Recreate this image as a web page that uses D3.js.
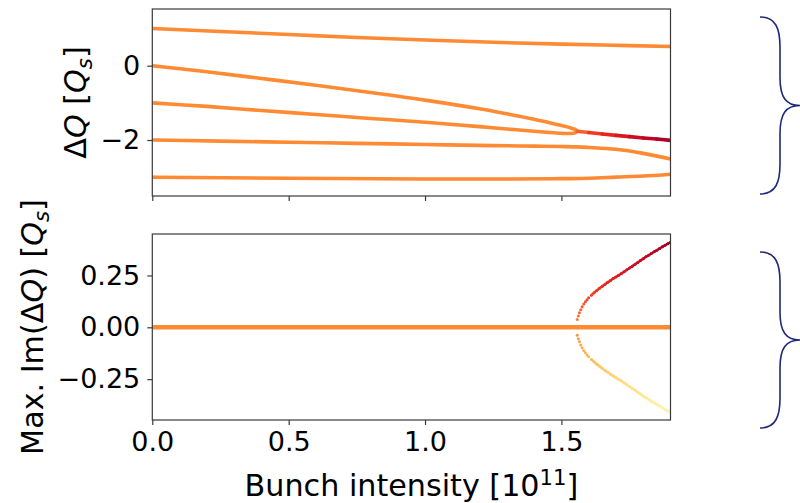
<!DOCTYPE html>
<html>
<head>
<meta charset="utf-8">
<script src="https://cdn.jsdelivr.net/npm/d3@7"></script>
<style>
body { margin: 0; background: #fff; }
text { font-family: "DejaVu Sans", sans-serif; fill: #000; }
</style>
</head>
<body>
<div id="chart"></div>
<script>
// ---- data ----
var xTicks = [0, 0.5, 1.0, 1.5]
var reTicks = [0, -2]
var imTicks = [0.25, 0, -0.25]

// top panel: real part of the mode tunes
var p1X = [0, 0.25, 0.5, 0.75, 1.0, 1.25, 1.5, 1.75, 1.9]
var p1Re = [1.0, 0.92, 0.84, 0.76, 0.69, 0.63, 0.58, 0.54, 0.515]

var loopX = [0, 0.2, 0.4, 0.6, 0.8, 1.0, 1.2, 1.3, 1.4, 1.45, 1.5, 1.53, 1.55, 1.558]
var m0Re = [0, -0.164, -0.344, -0.528, -0.721, -0.926, -1.16, -1.296, -1.44, -1.525, -1.61, -1.665, -1.715, -1.765]
var m1Re = [-1.0, -1.096, -1.206, -1.312, -1.419, -1.524, -1.64, -1.704, -1.765, -1.795, -1.82, -1.825, -1.81, -1.765]

var mergeX = [1.558, 1.6, 1.65, 1.7, 1.75, 1.8, 1.85, 1.9]
var mergeRe = [-1.765, -1.80, -1.84, -1.875, -1.91, -1.945, -1.975, -2.01]
var mergeIm = [0.038, 0.145, 0.199, 0.243, 0.286, 0.331, 0.372, 0.41]

var m2X = [0, 0.25, 0.5, 0.75, 1.0, 1.25, 1.4, 1.5, 1.56, 1.6, 1.7, 1.8, 1.9]
var m2Re = [-2.0, -2.03, -2.06, -2.09, -2.12, -2.15, -2.165, -2.175, -2.185, -2.2, -2.25, -2.36, -2.51]

var m3X = [0, 0.5, 1.0, 1.3, 1.5, 1.6, 1.7, 1.8, 1.9]
var m3Re = [-3.0, -3.03, -3.05, -3.05, -3.04, -3.03, -3.0, -2.97, -2.92]

// bottom panel: imaginary parts
var zeroX = [0, 1.9]
var zeroIm = [0, 0]
var branchX = [1.558, 1.562, 1.566, 1.571, 1.576, 1.582, 1.588, 1.594, 1.60, 1.61, 1.62, 1.63, 1.64, 1.65,
  1.66, 1.67, 1.68, 1.69, 1.70, 1.71, 1.72, 1.73, 1.74, 1.75, 1.76, 1.77, 1.78, 1.79, 1.80, 1.81, 1.82,
  1.83, 1.84, 1.85, 1.86, 1.87, 1.88, 1.89, 1.90]
var upperIm = [0.038, 0.055, 0.07, 0.085, 0.099, 0.112, 0.123, 0.133, 0.142, 0.155, 0.167, 0.178, 0.188, 0.198,
  0.208, 0.217, 0.226, 0.235, 0.243, 0.251, 0.259, 0.268, 0.277, 0.286, 0.295, 0.304, 0.313, 0.322, 0.331, 0.34, 0.348,
  0.356, 0.364, 0.372, 0.38, 0.388, 0.396, 0.403, 0.41]
var lowerIm = [-0.038, -0.055, -0.07, -0.085, -0.099, -0.112, -0.123, -0.133, -0.142, -0.155, -0.167, -0.178, -0.188, -0.198,
  -0.208, -0.217, -0.226, -0.235, -0.243, -0.251, -0.259, -0.268, -0.277, -0.286, -0.295, -0.304, -0.313, -0.322, -0.331, -0.34, -0.348,
  -0.356, -0.364, -0.372, -0.38, -0.388, -0.396, -0.403, -0.41]

// ---- layout ----
var W = 800, H = 503
var left = 152.3, right = 670.5
var top1 = 9, bottom1 = 196
var top2 = 234, bottom2 = 420
var tickFont = 27, labelFont = 30.2
var frameColor = "#3a3a3a"
var braceColor = "#1f2a78"

var svg = d3.select("#chart")
    .append("svg")
    .attr("width", W)
    .attr("height", H)

var x = d3.scaleLinear().domain([0, 1.9]).range([left, right])
var yRe = d3.scaleLinear().domain([-3.507, 1.526]).range([bottom1, top1])
var yIm = d3.scaleLinear().domain([-0.447, 0.45]).range([bottom2, top2])

// colour by imaginary part, like YlOrRd in the original
var color = d3.scaleSequential(d3.interpolateYlOrRd).domain([-0.48, 0.48])
var orange = "#fe8b33"

function zip(xs, ys) { return xs.map(function(v, i) { return [v, ys[i]] }) }

// ---- top panel ----
var g1 = svg.append("g").attr("id", "reTune")
g1.append("defs").append("clipPath").attr("id", "clip1")
    .append("rect").attr("x", left).attr("y", top1).attr("width", right - left).attr("height", bottom1 - top1)
var lines1 = g1.append("g").attr("clip-path", "url(#clip1)")

var lineRe = d3.line().x(function(d) { return x(d[0]) }).y(function(d) { return yRe(d[1]) })

lines1.append("path").datum(zip(p1X, p1Re))
    .attr("d", lineRe.curve(d3.curveMonotoneX))
    .attr("fill", "none").attr("stroke", orange).attr("stroke-width", 3.6).attr("stroke-linecap", "round")

// mode 0 and mode -1 join at the threshold: one path round the nose
var loopPts = zip(loopX, m0Re).concat(zip(loopX, m1Re).reverse().slice(1))
lines1.append("path").datum(loopPts)
    .attr("d", d3.line().x(function(d) { return x(d[0]) }).y(function(d) { return yRe(d[1]) }).curve(d3.curveCatmullRom.alpha(0.5)))
    .attr("fill", "none").attr("stroke", orange).attr("stroke-width", 3.6).attr("stroke-linecap", "round")

lines1.append("path").datum(zip(m2X, m2Re))
    .attr("d", d3.line().x(function(d) { return x(d[0]) }).y(function(d) { return yRe(d[1]) }).curve(d3.curveMonotoneX))
    .attr("fill", "none").attr("stroke", orange).attr("stroke-width", 3.6).attr("stroke-linecap", "round")

lines1.append("path").datum(zip(m3X, m3Re))
    .attr("d", d3.line().x(function(d) { return x(d[0]) }).y(function(d) { return yRe(d[1]) }).curve(d3.curveMonotoneX))
    .attr("fill", "none").attr("stroke", orange).attr("stroke-width", 3.6).attr("stroke-linecap", "round")

// merged (unstable) mode, segment by segment so the colour can change
var mergeSeg = d3.range(mergeX.length - 1)
lines1.selectAll(".merge").data(mergeSeg).enter().append("line")
    .attr("class", "merge")
    .attr("x1", function(i) { return x(mergeX[i]) })
    .attr("y1", function(i) { return yRe(mergeRe[i]) })
    .attr("x2", function(i) { return x(mergeX[i + 1]) })
    .attr("y2", function(i) { return yRe(mergeRe[i + 1]) })
    .attr("stroke", function(i) { return color((mergeIm[i] + mergeIm[i + 1]) / 2) })
    .attr("stroke-width", 3.6).attr("stroke-linecap", "round")

g1.append("rect")
    .attr("x", left).attr("y", top1).attr("width", right - left).attr("height", bottom1 - top1)
    .attr("fill", "none").attr("stroke", frameColor).attr("stroke-width", 1.2)

g1.append("g")
    .attr("transform", "translate(0," + bottom1 + ")")
    .call(d3.axisBottom(x).tickValues(xTicks).tickSize(5).tickFormat(""))
    .call(function(a) { a.select(".domain").remove(); a.selectAll("line").attr("stroke", frameColor).attr("stroke-width", 1.2) })

g1.append("g")
    .attr("transform", "translate(" + left + ",0)")
    .call(d3.axisLeft(yRe).tickValues(reTicks).tickSize(5).tickPadding(7)
        .tickFormat(function(d) { return d < 0 ? "\u2212" + Math.abs(d) : d }))
    .call(function(a) {
        a.select(".domain").remove()
        a.selectAll("line").attr("stroke", frameColor).attr("stroke-width", 1.2)
        a.selectAll("text").attr("font-size", tickFont).attr("font-family", "DejaVu Sans").attr("fill", "#000")
    })

// ---- bottom panel ----
var g2 = svg.append("g").attr("id", "imTune")
g2.append("defs").append("clipPath").attr("id", "clip2")
    .append("rect").attr("x", left).attr("y", top2).attr("width", right - left).attr("height", bottom2 - top2)
var marks2 = g2.append("g").attr("clip-path", "url(#clip2)")

marks2.append("path").datum(zip(zeroX, zeroIm))
    .attr("d", d3.line().x(function(d) { return x(d[0]) }).y(function(d) { return yIm(d[1]) }))
    .attr("fill", "none").attr("stroke", orange).attr("stroke-width", 4.6)

function drawBranch(vals, cls) {
    var seg = d3.range(branchX.length - 1).filter(function(i) { return branchX[i] >= 1.61 })
    marks2.selectAll("." + cls + "Seg").data(seg).enter().append("line")
        .attr("class", cls + "Seg")
        .attr("x1", function(i) { return x(branchX[i]) })
        .attr("y1", function(i) { return yIm(vals[i]) })
        .attr("x2", function(i) { return x(branchX[i + 1]) })
        .attr("y2", function(i) { return yIm(vals[i + 1]) })
        .attr("stroke", function(i) { return color((vals[i] + vals[i + 1]) / 2) })
        .attr("stroke-width", 2.4).attr("stroke-linecap", "round")
    marks2.selectAll("." + cls + "Dot").data(zip(branchX, vals)).enter().append("circle")
        .attr("class", cls + "Dot")
        .attr("cx", function(d) { return x(d[0]) })
        .attr("cy", function(d) { return yIm(d[1]) })
        .attr("r", 1.5)
        .attr("fill", function(d) { return color(d[1]) })
}
drawBranch(upperIm, "up")
drawBranch(lowerIm, "low")

g2.append("rect")
    .attr("x", left).attr("y", top2).attr("width", right - left).attr("height", bottom2 - top2)
    .attr("fill", "none").attr("stroke", frameColor).attr("stroke-width", 1.2)

g2.append("g")
    .attr("transform", "translate(0," + bottom2 + ")")
    .call(d3.axisBottom(x).tickValues(xTicks).tickSize(5).tickPadding(7).tickFormat(d3.format(".1f")))
    .call(function(a) {
        a.select(".domain").remove()
        a.selectAll("line").attr("stroke", frameColor).attr("stroke-width", 1.2)
        a.selectAll("text").attr("font-size", tickFont).attr("font-family", "DejaVu Sans").attr("fill", "#000")
    })

g2.append("g")
    .attr("transform", "translate(" + left + ",0)")
    .call(d3.axisLeft(yIm).tickValues(imTicks).tickSize(5).tickPadding(7)
        .tickFormat(function(d) { var s = d3.format(".2f")(Math.abs(d)); return d < 0 ? "\u2212" + s : s }))
    .call(function(a) {
        a.select(".domain").remove()
        a.selectAll("line").attr("stroke", frameColor).attr("stroke-width", 1.2)
        a.selectAll("text").attr("font-size", tickFont).attr("font-family", "DejaVu Sans").attr("fill", "#000")
    })

// ---- axis labels ----
var xl = svg.append("text")
    .attr("x", (left + right) / 2).attr("y", 496)
    .attr("text-anchor", "middle").attr("font-size", labelFont)
xl.append("tspan").text("Bunch intensity [10")
xl.append("tspan").attr("font-size", labelFont * 0.7).attr("dy", -11).text("11")
xl.append("tspan").attr("dy", 11).text("]")

var yl1 = svg.append("text")
    .attr("transform", "translate(86," + (top1 + bottom1) / 2 + ") rotate(-90)")
    .attr("text-anchor", "middle").attr("font-size", labelFont)
yl1.append("tspan").text("\u0394")
yl1.append("tspan").attr("font-style", "italic").text("Q")
yl1.append("tspan").text(" [")
yl1.append("tspan").attr("font-style", "italic").text("Q")
yl1.append("tspan").attr("font-style", "italic").attr("font-size", labelFont * 0.7).attr("dy", 6).text("s")
yl1.append("tspan").attr("dy", -6).text("]")

var yl2 = svg.append("text")
    .attr("transform", "translate(43," + (top2 + bottom2) / 2 + ") rotate(-90)")
    .attr("text-anchor", "middle").attr("font-size", labelFont)
yl2.append("tspan").text("Max. Im(\u0394")
yl2.append("tspan").attr("font-style", "italic").text("Q")
yl2.append("tspan").text(") [")
yl2.append("tspan").attr("font-style", "italic").text("Q")
yl2.append("tspan").attr("font-style", "italic").attr("font-size", labelFont * 0.7).attr("dy", 6).text("s")
yl2.append("tspan").attr("dy", -6).text("]")

// ---- curly braces on the right ----
var braces = [{y0: 17, y1: 194}, {y0: 252, y1: 428}]
var bx0 = 760, bx1 = 780, bx2 = 800
svg.selectAll(".brace").data(braces).enter().append("path")
    .attr("class", "brace")
    .attr("d", function(b) {
        var m = (b.y0 + b.y1) / 2
        return "M" + bx0 + "," + b.y0 +
            " C" + (bx0 + 16) + "," + b.y0 + " " + bx1 + "," + (b.y0 + 12) + " " + bx1 + "," + (b.y0 + 30) +
            " L" + bx1 + "," + (m - 28) +
            " C" + bx1 + "," + (m - 8) + " " + (bx1 + 6) + "," + m + " " + bx2 + "," + m +
            " C" + (bx1 + 6) + "," + m + " " + bx1 + "," + (m + 8) + " " + bx1 + "," + (m + 28) +
            " L" + bx1 + "," + (b.y1 - 30) +
            " C" + bx1 + "," + (b.y1 - 12) + " " + (bx0 + 16) + "," + b.y1 + " " + bx0 + "," + b.y1
    })
    .attr("fill", "none").attr("stroke", braceColor).attr("stroke-width", 1.6)
</script>
</body>
</html>
